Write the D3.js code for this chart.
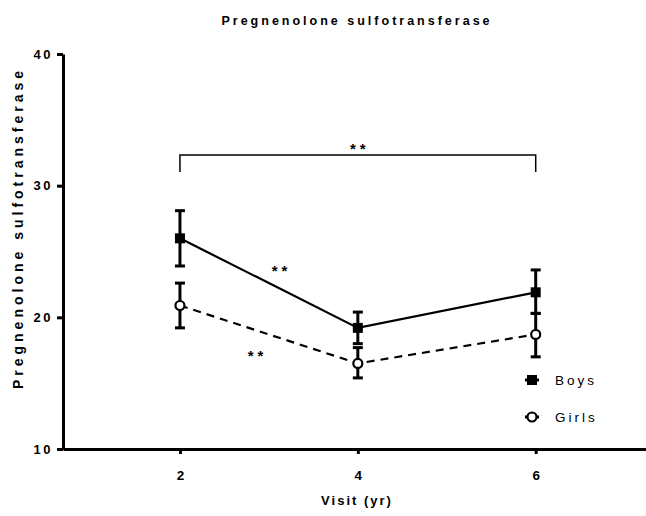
<!DOCTYPE html>
<html>
<head>
<meta charset="utf-8">
<script src="https://cdn.jsdelivr.net/npm/d3@7"></script>
<style>
  html, body { margin: 0; padding: 0; background: #fff; }
  svg { display: block; font-family: "Liberation Sans", Arial, sans-serif; }
</style>
</head>
<body>
<svg id="chart" width="646" height="516"></svg>
<script>
// Visits (years) and group means with SEM bounds
const visits = [2, 4, 6];
const boysMean = [26.0, 19.2, 21.9];
const boysLow  = [23.9, 18.0, 20.3];
const boysHigh = [28.1, 20.4, 23.6];
const girlsMean = [20.9, 16.5, 18.7];
const girlsLow  = [19.2, 15.4, 17.0];
const girlsHigh = [22.6, 17.7, 20.3];
const yTicks = [10, 20, 30, 40];
const xTicks = [2, 4, 6];

const svg = d3.select("#chart");
const black = "#000";

const x = d3.scaleLinear().domain([0.685, 7.6]).range([63, 678]);
const y = d3.scaleLinear().domain([10, 40]).range([449, 54]);

// Title
svg.append("text")
  .attr("x", 357).attr("y", 25)
  .attr("text-anchor", "middle")
  .attr("font-size", 12.5).attr("font-weight", "bold")
  .attr("letter-spacing", 3)
  .text("Pregnenolone sulfotransferase");

// Y axis
const yAxis = svg.append("g").attr("transform", "translate(63,0)")
  .call(d3.axisLeft(y).tickValues(yTicks).tickFormat(d3.format("d"))
    .tickSize(6).tickSizeOuter(0).tickPadding(4));
yAxis.select(".domain").attr("stroke-width", 3);
yAxis.selectAll(".tick line").attr("stroke-width", 3);
yAxis.selectAll(".tick text")
  .attr("font-size", 13).attr("font-weight", "bold").attr("letter-spacing", 2.5)
  .attr("font-family", "Liberation Sans, Arial, sans-serif").attr("fill", black);

// X axis
const xAxis = svg.append("g").attr("transform", "translate(0,449)")
  .call(d3.axisBottom(x).tickValues(xTicks).tickFormat(d3.format("d"))
    .tickSize(5).tickSizeOuter(0).tickPadding(16));
xAxis.select(".domain").attr("stroke-width", 3);
xAxis.selectAll(".tick line").attr("stroke-width", 3);
xAxis.selectAll(".tick text")
  .attr("font-size", 13.5).attr("font-weight", "bold")
  .attr("font-family", "Liberation Sans, Arial, sans-serif").attr("fill", black);

// Axis titles
svg.append("text")
  .attr("x", 357).attr("y", 505)
  .attr("text-anchor", "middle")
  .attr("font-size", 13).attr("font-weight", "bold").attr("letter-spacing", 2)
  .text("Visit (yr)");

svg.append("text")
  .attr("transform", "translate(23,228) rotate(-90)")
  .attr("text-anchor", "middle")
  .attr("font-size", 14).attr("font-weight", "bold").attr("letter-spacing", 4)
  .text("Pregnenolone sulfotransferase");

// Series
const series = [
  { name: "Boys", mean: boysMean, low: boysLow, high: boysHigh, dash: null, marker: "square" },
  { name: "Girls", mean: girlsMean, low: girlsLow, high: girlsHigh, dash: "8,6", marker: "circle" }
];

const line = d3.line().x(d => x(d[0])).y(d => y(d[1]));

series.forEach(s => {
  const pts = visits.map((v, i) => [v, s.mean[i]]);
  svg.append("path")
    .attr("d", line(pts))
    .attr("fill", "none").attr("stroke", black).attr("stroke-width", 2.2)
    .attr("stroke-dasharray", s.dash);

  const g = svg.append("g");
  visits.forEach((v, i) => {
    const cx = x(v);
    g.append("line").attr("x1", cx).attr("x2", cx)
      .attr("y1", y(s.low[i])).attr("y2", y(s.high[i]))
      .attr("stroke", black).attr("stroke-width", 3);
    [s.low[i], s.high[i]].forEach(val => {
      g.append("line").attr("x1", cx - 5).attr("x2", cx + 5)
        .attr("y1", y(val)).attr("y2", y(val))
        .attr("stroke", black).attr("stroke-width", 3);
    });
  });
  visits.forEach((v, i) => {
    drawMarker(g, s.marker, x(v), y(s.mean[i]));
  });
});

function drawMarker(g, type, cx, cy) {
  if (type === "square") {
    g.append("rect").attr("x", cx - 5).attr("y", cy - 5)
      .attr("width", 10).attr("height", 10).attr("fill", black);
  } else {
    g.append("circle").attr("cx", cx).attr("cy", cy).attr("r", 4.5)
      .attr("fill", "#fff").attr("stroke", black).attr("stroke-width", 2.2);
  }
}

// Significance bracket between visit 2 and visit 6
const bracketY = 155;
svg.append("path")
  .attr("d", `M${x(2)},${bracketY + 17}V${bracketY}H${x(6)}V${bracketY + 17}`)
  .attr("fill", "none").attr("stroke", black).attr("stroke-width", 1.5);

const stars = [
  { x: 4, y: bracketY - 1 },
  { x: 3.12, y: 276 },
  { x: 2.85, y: 361 }
];
svg.selectAll(".star").data(stars).enter().append("text")
  .attr("x", d => x(d.x) + 2).attr("y", d => d.y)
  .attr("text-anchor", "middle")
  .attr("font-size", 15).attr("font-weight", "bold").attr("letter-spacing", 4)
  .text("**");

// Legend
const legend = [
  { name: "Boys", marker: "square", y: 380 },
  { name: "Girls", marker: "circle", y: 417 }
];
legend.forEach(l => {
  const g = svg.append("g");
  g.append("line").attr("x1", 525).attr("x2", 539)
    .attr("y1", l.y).attr("y2", l.y)
    .attr("stroke", black).attr("stroke-width", 3);
  drawMarker(g, l.marker, 532, l.y);
  svg.append("text").attr("x", 555).attr("y", l.y + 5)
    .attr("font-size", 13.5).attr("letter-spacing", 3)
    .text(l.name);
});
</script>
</body>
</html>
